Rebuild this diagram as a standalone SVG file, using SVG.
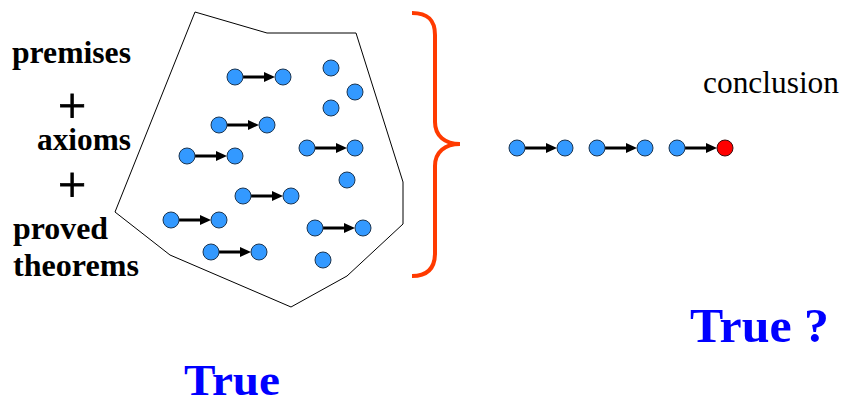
<svg xmlns="http://www.w3.org/2000/svg" width="845" height="402" viewBox="0 0 845 402">
<style>
.dot{fill:#3399ff;stroke:#1c3550;stroke-width:1}
.red{fill:#ff0000;stroke:#3a0d0d;stroke-width:1}
.arr{stroke:#000;stroke-width:3;marker-end:url(#ah)}
.serif{font-family:'Liberation Serif','Times New Roman',serif}
.lbl{font-weight:bold;font-size:31.5px;fill:#000}
.plus{font-size:50px;fill:#000;stroke:#000;stroke-width:0.8;text-anchor:middle}
.tr{font-weight:bold;fill:#0000ff}
</style>
<defs>
<marker id="ah" markerUnits="userSpaceOnUse" markerWidth="12" markerHeight="10" refX="6" refY="5" orient="auto">
<path d="M0,0 L11,5 L0,10 z" fill="#000"/>
</marker>
</defs>
<g id="region"><polygon points="195,12 267,33 356,33 403,182 403,224 347,276 291,307 170,255 115,212" fill="none" stroke="#000" stroke-width="1"/></g>
<g id="brace"><path d="M412,13 C428,13 435,20 435,35 L435,122 C435,136 445,144 460,144 C445,144 435,152 435,166 L435,253 C435,268 428,276 412,276" fill="none" stroke="#ff3a00" stroke-width="4"/></g>
<g id="labels">
<text class="serif lbl" x="12" y="63" textLength="119" lengthAdjust="spacingAndGlyphs">premises</text>
<text class="serif plus" x="72" y="123">+</text>
<text class="serif lbl" x="37" y="150" textLength="94" lengthAdjust="spacingAndGlyphs">axioms</text>
<text class="serif plus" x="72" y="202">+</text>
<text class="serif lbl" x="13" y="239" textLength="95" lengthAdjust="spacingAndGlyphs">proved</text>
<text class="serif lbl" x="13" y="276" textLength="126" lengthAdjust="spacingAndGlyphs">theorems</text>
<text class="serif" x="703" y="93" font-size="31.5" fill="#000" textLength="136" lengthAdjust="spacingAndGlyphs">conclusion</text>
<text class="serif tr" x="184" y="395" font-size="44" textLength="96" lengthAdjust="spacingAndGlyphs">True</text>
<text class="serif tr" x="690" y="342" font-size="49" textLength="139" lengthAdjust="spacingAndGlyphs">True ?</text>
</g>
<g id="connectors">
<line class="arr" x1="243" y1="77" x2="270" y2="77"/>
<line class="arr" x1="227" y1="125" x2="254" y2="125"/>
<line class="arr" x1="195" y1="156" x2="222" y2="156"/>
<line class="arr" x1="251" y1="196" x2="278" y2="196"/>
<line class="arr" x1="179" y1="220" x2="206" y2="220"/>
<line class="arr" x1="219" y1="252" x2="246" y2="252"/>
<line class="arr" x1="315" y1="148" x2="342" y2="148"/>
<line class="arr" x1="323" y1="228" x2="350" y2="228"/>
<line class="arr" x1="525" y1="148" x2="552" y2="148"/>
<line class="arr" x1="605" y1="148" x2="632" y2="148"/>
<line class="arr" x1="685" y1="148" x2="712" y2="148"/>
</g>
<g id="n1a"><circle class="dot" cx="235" cy="77" r="8"/></g>
<g id="n1b"><circle class="dot" cx="283" cy="77" r="8"/></g>
<g id="n2a"><circle class="dot" cx="219" cy="125" r="8"/></g>
<g id="n2b"><circle class="dot" cx="267" cy="125" r="8"/></g>
<g id="n3a"><circle class="dot" cx="187" cy="156" r="8"/></g>
<g id="n3b"><circle class="dot" cx="235" cy="156" r="8"/></g>
<g id="n4a"><circle class="dot" cx="243" cy="196" r="8"/></g>
<g id="n4b"><circle class="dot" cx="291" cy="196" r="8"/></g>
<g id="n5a"><circle class="dot" cx="171" cy="220" r="8"/></g>
<g id="n5b"><circle class="dot" cx="219" cy="220" r="8"/></g>
<g id="n6a"><circle class="dot" cx="211" cy="252" r="8"/></g>
<g id="n6b"><circle class="dot" cx="259" cy="252" r="8"/></g>
<g id="n7a"><circle class="dot" cx="307" cy="148" r="8"/></g>
<g id="n7b"><circle class="dot" cx="355" cy="148" r="8"/></g>
<g id="n8a"><circle class="dot" cx="315" cy="228" r="8"/></g>
<g id="n8b"><circle class="dot" cx="363" cy="228" r="8"/></g>
<g id="s1"><circle class="dot" cx="331" cy="68" r="8"/></g>
<g id="s2"><circle class="dot" cx="355" cy="92" r="8"/></g>
<g id="s3"><circle class="dot" cx="331" cy="108" r="8"/></g>
<g id="s4"><circle class="dot" cx="347" cy="180" r="8"/></g>
<g id="s5"><circle class="dot" cx="323" cy="260" r="8"/></g>
<g id="c1"><circle class="dot" cx="517" cy="148" r="8"/></g>
<g id="c2"><circle class="dot" cx="565" cy="148" r="8"/></g>
<g id="c3"><circle class="dot" cx="597" cy="148" r="8"/></g>
<g id="c4"><circle class="dot" cx="645" cy="148" r="8"/></g>
<g id="c5"><circle class="dot" cx="677" cy="148" r="8"/></g>
<g id="c6"><circle class="red" cx="725" cy="148" r="8"/></g>
</svg>
